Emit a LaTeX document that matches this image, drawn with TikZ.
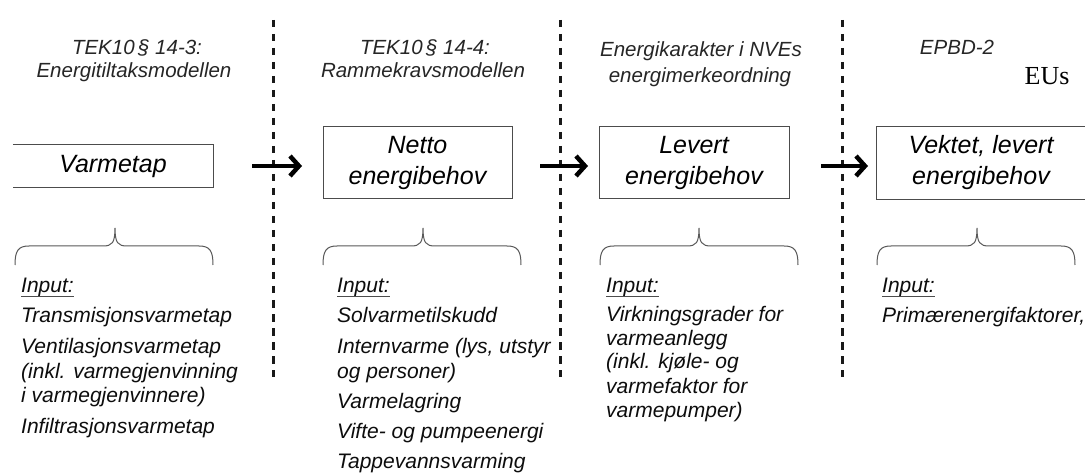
\documentclass[tikz,border=0pt]{standalone}
\usepackage{fontspec}
\setmainfont{Liberation Sans}
\newfontfamily\euserif{Liberation Serif}
\usetikzlibrary{arrows.meta}
\tikzset{
  hdr/.style={font=\itshape\fontsize{20.5}{23}\selectfont, text=black!85, anchor=base, inner sep=0pt},
  eus/.style={font=\euserif\fontsize{26}{28}\selectfont, text=black, anchor=base, inner sep=0pt},
  boxtxt/.style={font=\itshape\fontsize{25}{31}\selectfont, text=black, align=center, inner sep=0pt},
  inp/.style={font=\itshape\fontsize{21}{25}\selectfont, text=black!95, anchor=base west, inner sep=0pt},
  frame/.style={draw=black!70, line width=1pt},
  uline/.style={draw=black!70, line width=0.9pt},
  sep/.style={draw=black!90, line width=2.4pt, dash pattern=on 7.5pt off 6.5pt},
  flow/.style={draw=black, line width=4.5pt, -{Straight Barb[length=9pt,width=20pt]}},
  bracestyle/.style={draw=black!65, line width=1pt},
}
\newcommand\upbrace[3]{%
  \draw[bracestyle] (#1,265) .. controls (#1,251) and (#1+3,246) .. (#1+14,246)
    -- (#2-12,246) .. controls (#2-3,246) and (#2,243) .. (#2,228)
    .. controls (#2,243) and (#2+3,246) .. (#2+12,246)
    -- (#3-14,246) .. controls (#3-3,246) and (#3,251) .. (#3,265);}
\begin{document}
\begin{tikzpicture}[x=1pt,y=-1pt]
\useasboundingbox (0,0) rectangle (1085,473);
\fill[white] (0,0) rectangle (1085,473);

% separators
\coordinate (s1t) at (273.5,20); \coordinate (s1b) at (273.5,377);
\coordinate (s2t) at (560.5,20); \coordinate (s2b) at (560.5,377);
\coordinate (s3t) at (842.5,20); \coordinate (s3b) at (842.5,377);
\draw[sep] (s1t) -- (s1b);
\draw[sep] (s2t) -- (s2b);
\draw[sep] (s3t) -- (s3b);

% headers
\node[hdr] (h1a) at (137,55) {TEK10\,§ 14-3:};
\node[hdr] (h1b) at (134,78) {Energitiltaksmodellen};
\node[hdr] (h2a) at (425,55) {TEK10\,§ 14-4:};
\node[hdr] (h2b) at (423,78) {Rammekravsmodellen};
\node[hdr] (h3a) at (701,57) {Energikarakter i NVEs};
\node[hdr] (h3b) at (700,83) {energimerkeordning};
\node[hdr] (h4a) at (957,55) {EPBD-2};
\node[eus] (h4b) at (1047,85) {EUs};

% boxes
\node[boxtxt, minimum width=200pt, minimum height=42pt] (b1) at (113,166) {Varmetap};
\draw[frame] (b1.north west) -- (b1.north east) -- (b1.south east) -- (b1.south west);
\node[boxtxt, frame, minimum width=189pt, minimum height=72pt] (b2) at (417.5,163) {Netto\\energibehov};
\node[boxtxt, frame, minimum width=190pt, minimum height=72pt] (b3) at (694,163) {Levert\\energibehov};
\node[boxtxt, minimum width=208pt, minimum height=72pt] (b4) at (981,163) {Vektet, levert\\energibehov};
\draw[frame] (b4.north east) -- (b4.north west) -- (b4.south west) -- (b4.south east);

% arrows
\coordinate (a1s) at (252,166); \coordinate (a1e) at (302,166);
\coordinate (a2s) at (540,166); \coordinate (a2e) at (588,166);
\coordinate (a3s) at (821,166); \coordinate (a3e) at (868,166);
\draw[flow] (a1s) -- (a1e);
\draw[flow] (a2s) -- (a2e);
\draw[flow] (a3s) -- (a3e);

% braces
\upbrace{15}{115}{213}
\upbrace{323}{423}{521}
\upbrace{600}{699}{798}
\upbrace{877}{977}{1075}

% column 1 inputs
\node[inp] (i1) at (21,293) {Input:};
\draw[uline] ([yshift=-3pt]i1.base west) -- ([yshift=-3pt]i1.base east);
\node[inp] (c1a) at (21,323) {Transmisjonsvarmetap};
\node[inp] (c1b) at (21,353) {Ventilasjonsvarmetap};
\node[inp] (c1c) at (21,378) {(inkl. varmegjenvinning};
\node[inp] (c1d) at (21,402) {i varmegjenvinnere)};
\node[inp] (c1e) at (21,433) {Infiltrasjonsvarmetap};

% column 2 inputs
\node[inp] (i2) at (337,293) {Input:};
\draw[uline] ([yshift=-3pt]i2.base west) -- ([yshift=-3pt]i2.base east);
\node[inp] (c2a) at (337,323) {Solvarmetilskudd};
\node[inp] (c2b) at (337,353) {Internvarme (lys, utstyr};
\node[inp] (c2c) at (337,378) {og personer)};
\node[inp] (c2d) at (337,408) {Varmelagring};
\node[inp] (c2e) at (337,438) {Vifte- og pumpeenergi};
\node[inp] (c2f) at (337,468) {Tappevannsvarming};

% column 3 inputs
\node[inp] (i3) at (606,293) {Input:};
\draw[uline] ([yshift=-3pt]i3.base west) -- ([yshift=-3pt]i3.base east);
\node[inp] (c3a) at (606,322) {Virkningsgrader for};
\node[inp] (c3b) at (606,345) {varmeanlegg};
\node[inp] (c3c) at (606,368) {(inkl. kjøle- og};
\node[inp] (c3d) at (606,393) {varmefaktor for};
\node[inp] (c3e) at (606,417) {varmepumper)};

% column 4 inputs
\node[inp] (i4) at (882,293) {Input:};
\draw[uline] ([yshift=-3pt]i4.base west) -- ([yshift=-3pt]i4.base east);
\node[inp] (c4a) at (882,323) {Primærenergifaktorer,};
\end{tikzpicture}
\end{document}
